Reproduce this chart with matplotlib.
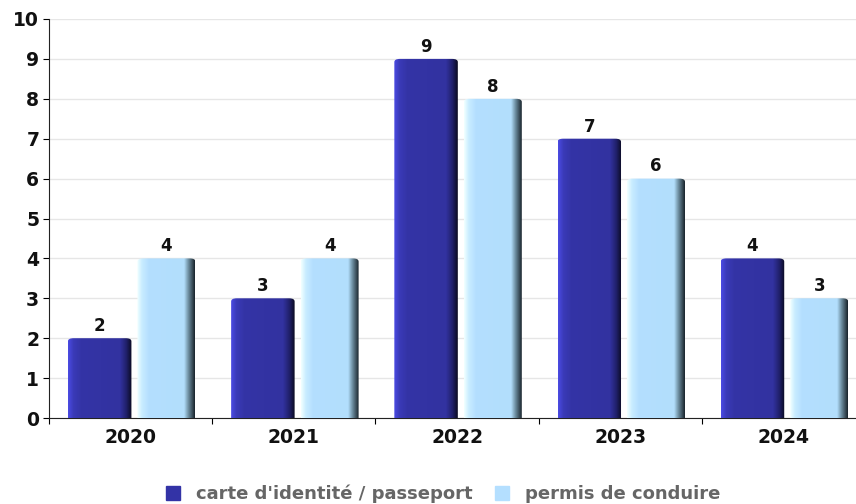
import numpy as np
import matplotlib
matplotlib.use('Agg')
import matplotlib.pyplot as plt
from matplotlib.colors import LinearSegmentedColormap
from matplotlib.patches import FancyBboxPatch
from matplotlib.lines import Line2D

years = ['2020', '2021', '2022', '2023', '2024']
carte_identite = [2, 3, 9, 7, 4]
permis_conduire = [4, 4, 8, 6, 3]
series_names = ["carte d'identité / passeport", 'permis de conduire']

# shaded bar looks: left highlight, flat body, dark right edge
dark_cmap = LinearSegmentedColormap.from_list(
    'dark', [(0, '#4a4ae0'), (0.08, '#3a3ab8'), (0.2, '#3434a6'), (0.82, '#3232a0'),
             (0.92, '#20206a'), (1, '#0c0c24')])
light_cmap = LinearSegmentedColormap.from_list(
    'light', [(0, '#f0ffff'), (0.08, '#c8ecff'), (0.2, '#b4dfff'), (0.82, '#b2defc'),
              (0.9, '#6a8a9c'), (1, '#1c2830')])

fig = plt.figure(figsize=(8.56, 5.04), dpi=100)
ax = fig.add_axes([49 / 856, 86 / 504, 816 / 856, 399 / 504])

grad = np.linspace(0, 1, 64).reshape(1, -1)


def shaded_bar(x0, x1, height, cmap):
    im = ax.imshow(grad, cmap=cmap, extent=(x0, x1, 0, height), aspect='auto',
                   interpolation='bilinear', zorder=3)
    # clip box starts below zero so only the top corners come out rounded
    clip = FancyBboxPatch((x0, -0.5), x1 - x0, height + 0.5,
                          boxstyle='round,pad=0,rounding_size=0.035',
                          mutation_aspect=2.2, transform=ax.transData,
                          facecolor='none', edgecolor='none')
    ax.add_patch(clip)
    im.set_clip_path(clip)
    ax.text((x0 + x1) / 2, height + 0.08, str(height), ha='center', va='bottom',
            fontsize=12, fontweight='bold', color='#111111', zorder=4)


for i in range(len(years)):
    shaded_bar(i + 0.116, i + 0.505, carte_identite[i], dark_cmap)
    shaded_bar(i + 0.542, i + 0.897, permis_conduire[i], light_cmap)

ax.set_xlim(0, 5)
ax.set_ylim(0, 10)
ax.set_yticks(range(11))
ax.yaxis.grid(True, color='#e6e6e6', linewidth=1, zorder=0)
ax.set_axisbelow(True)

ax.set_xticks(range(6))
ax.set_xticklabels([])
ax.set_xticks(np.arange(5) + 0.5, minor=True)
ax.set_xticklabels(years, minor=True)
ax.tick_params(axis='x', which='minor', length=0, pad=7)
ax.tick_params(axis='x', which='major', length=4, direction='out')
ax.tick_params(axis='y', length=4, direction='out', pad=3)
for lab in ax.get_yticklabels() + ax.get_xticklabels(minor=True):
    lab.set_fontweight('bold')
    lab.set_fontsize(13.5)
    lab.set_color('#111111')

for side in ['top', 'right']:
    ax.spines[side].set_visible(False)
ax.spines['left'].set_color('#222222')
ax.spines['bottom'].set_color('#222222')

handles = [Line2D([], [], marker='s', linestyle='none', markersize=10, color='#3333a6'),
           Line2D([], [], marker='s', linestyle='none', markersize=10, color='#b4dfff')]
fig.legend(handles, series_names, loc='center', bbox_to_anchor=(442 / 856, 1 - 494 / 504),
           ncol=2, frameon=False, handletextpad=0.8, columnspacing=1.1, handlelength=1.0,
           prop={'weight': 'bold', 'size': 13}, labelcolor='#666666')

fig.savefig('out.png', dpi=100)
